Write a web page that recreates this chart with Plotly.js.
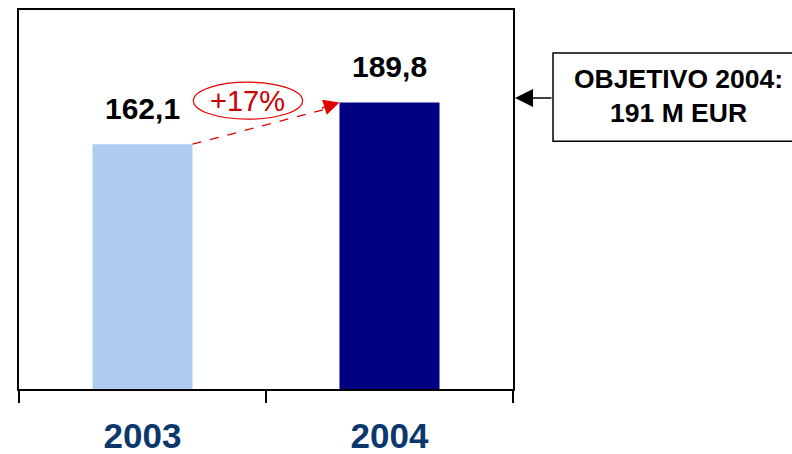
<!DOCTYPE html>
<html>
<head>
<meta charset="utf-8">
<script src="https://cdn.plot.ly/plotly-3.0.1.min.js"></script>
<style>html,body{margin:0;padding:0;background:#fff;}#chart{width:792px;height:454px;}</style>
</head>
<body>
<div id="chart"></div>
<script>
const categories = ["2003", "2004"];
const values = [162.1, 189.8];
const barColors = ["#b0cdf1", "#000080"];
const growthLabel = "+17%";
const targetLabel = "OBJETIVO 2004:<br>191 M EUR";

const FONT = "Liberation Sans, Arial, sans-serif";

const trace = {
  type: "bar",
  x: categories,
  y: values,
  width: 0.405,
  marker: { color: barColors, line: { width: 0 } },
  hoverinfo: "none"
};

const valueAnnotations = values.map((v, i) => ({
  x: i, y: v, xref: "x", yref: "y",
  text: "<b>" + v.toFixed(1).replace(".", ",") + "</b>",
  showarrow: false, yanchor: "bottom", yshift: 17,
  font: { family: FONT, size: 30, color: "#000000" }
}));

const layout = {
  width: 792, height: 454,
  margin: { l: 19, r: 279, t: 10, b: 65 },
  paper_bgcolor: "#ffffff", plot_bgcolor: "#ffffff",
  showlegend: false,
  xaxis: {
    type: "category",
    range: [-0.5, 1.5],
    tickmode: "array", tickvals: categories, ticktext: categories.map(c => "<b>" + c + "</b>"),
    tickfont: { family: FONT, size: 35, color: "#0c376d" },
    ticks: "outside", tickson: "boundaries", ticklen: 12, tickwidth: 1.5, tickcolor: "#000",
    ticklabelstandoff: 15,
    showline: true, linecolor: "#000", linewidth: 2, mirror: true,
    showgrid: false, zeroline: false, fixedrange: true
  },
  yaxis: {
    range: [0, 251],
    showticklabels: false, ticks: "", showgrid: false, zeroline: false,
    showline: true, linecolor: "#000", linewidth: 2, mirror: true, fixedrange: true
  },
  shapes: [
    // dashed growth line
    { type: "line", xref: "x", yref: "y", x0: 0.2025, y0: values[0], x1: 0.74, y1: values[1] - 4.5,
      line: { color: "#e00000", width: 1.3, dash: "dash" } },
    // ellipse round the growth label
    { type: "circle", xref: "x", yref: "y", x0: 0.206, x1: 0.648, y0: 178.7, y1: 203.2,
      line: { color: "#e00000", width: 1.2 }, fillcolor: "rgba(0,0,0,0)" },
    // target box
    { type: "rect", xref: "paper", yref: "paper", x0: 1.081, x1: 1.58, y0: 0.654, y1: 0.8865,
      line: { color: "#000", width: 1.5 }, fillcolor: "#ffffff" }
  ],
  annotations: valueAnnotations.concat([
    // arrowhead of the growth line
    { x: 0.7975, y: values[1], xref: "x", yref: "y", ax: -19, ay: 6, text: "",
      showarrow: true, arrowhead: 2, arrowsize: 2.1, arrowwidth: 1.5, arrowcolor: "#e00000" },
    { x: 0.427, y: 191, xref: "x", yref: "y", text: growthLabel, showarrow: false,
      xanchor: "center", yanchor: "middle",
      font: { family: FONT, size: 29, color: "#cc0000" } },
    { x: 1.335, y: 0.772, xref: "paper", yref: "paper", text: "<b>" + targetLabel + "</b>",
      xanchor: "center", yanchor: "middle",
      showarrow: false, font: { family: FONT, size: 26.5, color: "#000" }, align: "center" },
    // arrow from box to chart
    { x: 1.004, y: 0.768, xref: "paper", yref: "paper", ax: 38, ay: 0, text: "",
      showarrow: true, arrowhead: 2, arrowsize: 2.4, arrowwidth: 1.5, arrowcolor: "#000" }
  ])
};

Plotly.newPlot("chart", [trace], layout, { displayModeBar: false, staticPlot: true });
</script>
</body>
</html>
